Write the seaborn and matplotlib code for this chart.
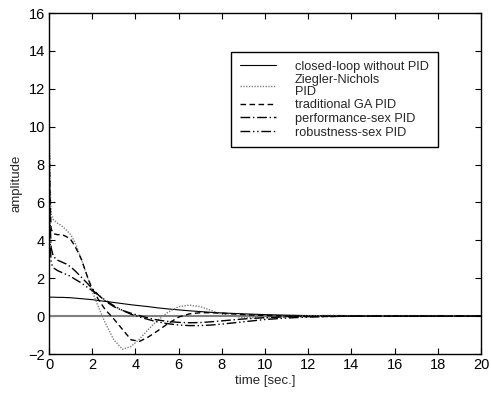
import numpy as np
import pandas as pd
import matplotlib
matplotlib.use("Agg")
import matplotlib.pyplot as plt
import seaborn as sns

sns.set_theme(style="white")
plt.rcParams['font.family'] = ['Liberation Sans', 'DejaVu Sans']

time = [0, 0.05, 0.1, 0.2, 0.4, 0.6, 0.8, 1.0, 1.2, 1.5, 1.8, 2.0, 2.3, 2.6, 3.0,
        3.4, 3.8, 4.2, 4.6, 5.0, 5.5, 6.0, 6.5, 7.0, 7.5, 8, 9, 10, 11, 12, 13, 14, 16, 18, 20]

closed_loop = [1.0, 1.0, 1.0, 1.0, 0.99, 0.99, 0.98, 0.97, 0.95, 0.92, 0.89, 0.87, 0.82, 0.78, 0.72,
               0.66, 0.6, 0.55, 0.5, 0.44, 0.38, 0.33, 0.28, 0.24, 0.2, 0.17, 0.12, 0.08, 0.05, 0.03, 0.02, 0.01, 0.0, 0.0, 0.0]
ziegler = [12.0, 7.0, 5.4, 5.1, 4.9, 4.75, 4.55, 4.3, 3.9, 3.0, 2.0, 1.3, 0.45, -0.35, -1.25,
           -1.75, -1.6, -1.2, -0.7, -0.25, 0.2, 0.5, 0.58, 0.5, 0.3, 0.1, -0.08, -0.1, -0.05, 0.02, 0.04, 0.02, 0.0, 0.0, 0.0]
traditional = [10.0, 6.0, 4.6, 4.35, 4.3, 4.3, 4.2, 4.05, 3.7, 3.0, 2.0, 1.45, 0.85, 0.35, -0.15,
               -0.7, -1.25, -1.33, -1.1, -0.8, -0.4, -0.05, 0.12, 0.18, 0.18, 0.15, 0.08, 0.03, 0.0, -0.02, -0.02, 0.0, 0.0, 0.0, 0.0]
performance = [9.0, 5.0, 3.6, 3.15, 2.95, 2.85, 2.75, 2.6, 2.4, 2.05, 1.7, 1.45, 1.1, 0.8, 0.5,
               0.3, 0.15, 0.02, -0.1, -0.2, -0.28, -0.33, -0.35, -0.34, -0.3, -0.25, -0.15, -0.08, -0.04, -0.02, 0.0, 0.0, 0.0, 0.0, 0.0]
robustness = [8.0, 4.0, 2.8, 2.55, 2.4, 2.3, 2.2, 2.1, 1.95, 1.75, 1.5, 1.35, 1.1, 0.85, 0.55,
              0.3, 0.1, -0.05, -0.18, -0.3, -0.4, -0.47, -0.5, -0.5, -0.47, -0.42, -0.3, -0.18, -0.1, -0.05, -0.02, 0.0, 0.0, 0.0, 0.0]

labels = ["closed-loop without PID", "Ziegler-Nichols\nPID", "traditional GA PID",
          "performance-sex PID", "robustness-sex PID"]

df = pd.DataFrame({"time": time, labels[0]: closed_loop, labels[1]: ziegler,
                   labels[2]: traditional, labels[3]: performance, labels[4]: robustness})

fig = plt.figure(figsize=(4.91, 3.94), dpi=100)
ax = fig.add_axes([0.0998, 0.1015, 0.88, 0.8655])

ax.axhline(0, color="#808080", lw=1.5, zorder=1)

styles = [
    dict(color="black", lw=0.8, linestyle="-"),
    dict(color="#808080", lw=1.0, linestyle=(0, (1, 1))),
    dict(color="black", lw=1.0, linestyle=(0, (4, 2.5))),
    dict(color="black", lw=1.0, linestyle=(0, (7, 2, 1, 2))),
    dict(color="black", lw=1.0, linestyle=(0, (7, 2, 1, 2, 1, 2))),
]
for lab, st in zip(labels, styles):
    sns.lineplot(data=df, x="time", y=lab, ax=ax, label=lab, **st)

ax.set_xlim(0, 20)
ax.set_ylim(-2, 16)
ax.set_xticks(np.arange(0, 21, 2))
ax.set_yticks(np.arange(-2, 17, 2))
ax.set_xlabel("time [sec.]", fontsize=9.5, labelpad=2)
ax.set_ylabel("amplitude", fontsize=9.5, labelpad=4)
ax.tick_params(direction="in", length=4, width=0.8, top=True, right=True,
               labelsize=10.5, colors="black", pad=3, bottom=True, left=True)
for s in ax.spines.values():
    s.set_color("black")
    s.set_linewidth(1.0)

leg = ax.legend(loc="upper left", bbox_to_anchor=(0.421, 0.886), fontsize=9.2,
                frameon=True, fancybox=False, framealpha=1, edgecolor="black",
                handlelength=2.8, handletextpad=1.5, labelspacing=0.12,
                borderpad=0.7, borderaxespad=0)
leg.get_frame().set_linewidth(1.0)
for t in leg.get_texts():
    t.set_linespacing(0.95)

fig.savefig("out.png", dpi=100)
